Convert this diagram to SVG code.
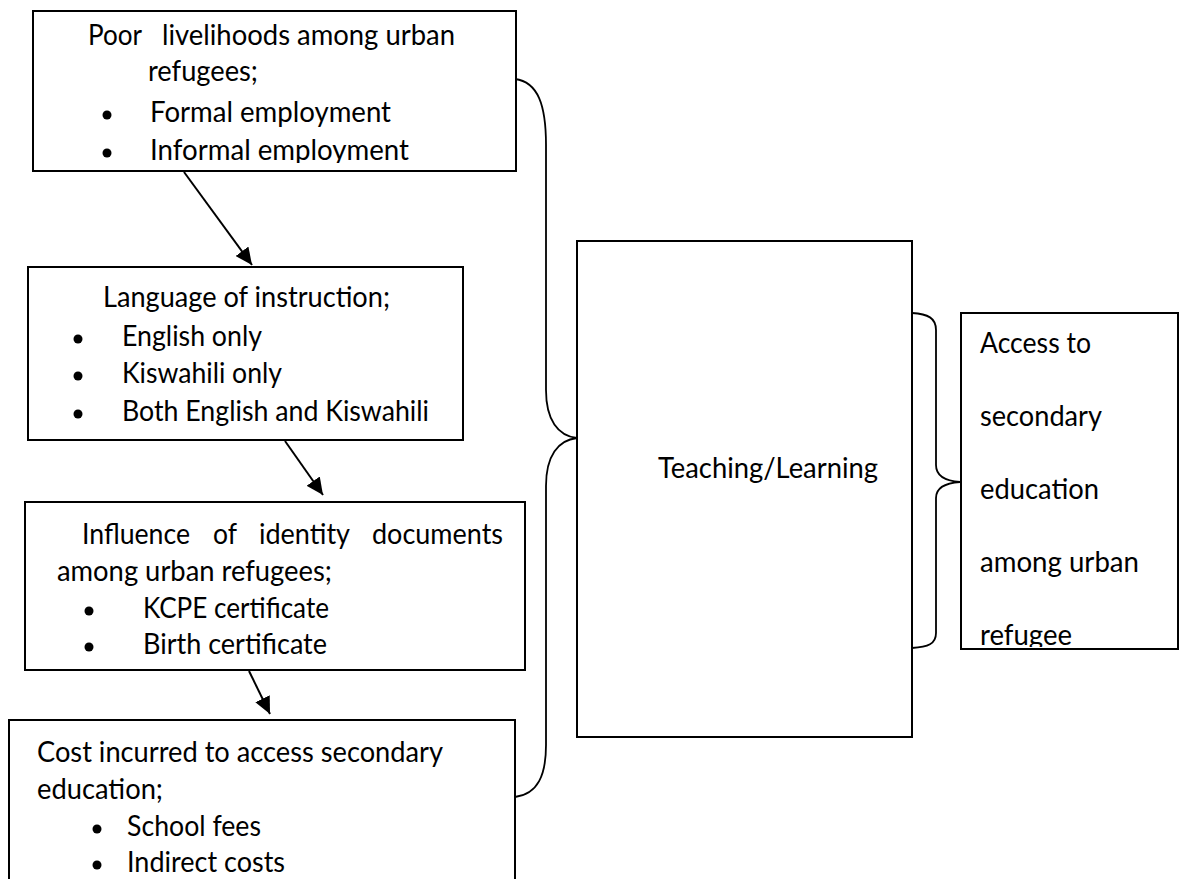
<svg xmlns="http://www.w3.org/2000/svg" width="1187" height="879" viewBox="0 0 1187 879">
<style>
.box{fill:#fff;stroke:#000;stroke-width:2}
.t{font-family:Lato,"Open Sans","Liberation Sans",sans-serif;font-size:28px;fill:#000}
.con{fill:none;stroke:#000;stroke-width:2}
.brace{fill:none;stroke:#000;stroke-width:1.8}
.b{fill:#000}
</style>
<defs>
<marker id="ah" markerUnits="userSpaceOnUse" markerWidth="20" markerHeight="16" refX="17" refY="8" orient="auto">
<path d="M0,0 L17,8 L0,16 z" fill="#000"/>
</marker>
<clipPath id="c1"><rect x="33" y="11" width="483" height="152"/></clipPath>
<clipPath id="c5"><rect x="961" y="313" width="217" height="334"/></clipPath>
</defs>
<rect width="1187" height="879" fill="#fff"/>

<g id="connectors">
<path class="con" d="M184,172 L252,265" marker-end="url(#ah)"/>
<path class="con" d="M285,441 L323,495" marker-end="url(#ah)"/>
<path class="con" d="M249,671 L270,714" marker-end="url(#ah)"/>
<path class="brace" d="M515,79 C538,82 546,105 546,145 L546,390 C546,420 558,436 577,438 C558,440 546,456 546,486 L546,745 C546,775 538,794 515,797"/>
<path class="brace" d="M912,313 C928,314 936,318 936,330 L936,465 C936,476 946,481 960,482 C946,483 936,488 936,498 L936,633 C936,644 928,647 912,648"/>
</g>

<g id="node-livelihoods">
<rect class="box" x="33" y="11" width="483" height="160"/>
<g clip-path="url(#c1)">
<text class="t" x="88" y="45" textLength="54" lengthAdjust="spacingAndGlyphs">Poor</text>
<text class="t" x="162" y="45" textLength="293" lengthAdjust="spacingAndGlyphs">livelihoods among urban</text>
<text class="t" x="148" y="81" textLength="110" lengthAdjust="spacingAndGlyphs">refugees;</text>
<circle class="b" cx="107" cy="115" r="4.5"/>
<text class="t" x="150" y="122" textLength="241" lengthAdjust="spacingAndGlyphs">Formal employment</text>
<circle class="b" cx="107" cy="153" r="4.5"/>
<text class="t" x="150" y="160" textLength="259" lengthAdjust="spacingAndGlyphs">Informal employment</text>
</g>
</g>

<g id="node-language">
<rect class="box" x="28" y="267" width="435" height="173"/>
<text class="t" x="103" y="307" textLength="287" lengthAdjust="spacingAndGlyphs">Language of instruction;</text>
<circle class="b" cx="78" cy="339" r="4.5"/>
<text class="t" x="122" y="346" textLength="140" lengthAdjust="spacingAndGlyphs">English only</text>
<circle class="b" cx="78" cy="376" r="4.5"/>
<text class="t" x="122" y="383" textLength="160" lengthAdjust="spacingAndGlyphs">Kiswahili only</text>
<circle class="b" cx="78" cy="414" r="4.5"/>
<text class="t" x="122" y="421" textLength="307" lengthAdjust="spacingAndGlyphs">Both English and Kiswahili</text>
</g>

<g id="node-identity">
<rect class="box" x="25" y="502" width="500" height="168"/>
<text class="t" x="82" y="544" textLength="108" lengthAdjust="spacingAndGlyphs">Influence</text>
<text class="t" x="213" y="544" textLength="24" lengthAdjust="spacingAndGlyphs">of</text>
<text class="t" x="259" y="544" textLength="91" lengthAdjust="spacingAndGlyphs">identity</text>
<text class="t" x="372" y="544" textLength="131" lengthAdjust="spacingAndGlyphs">documents</text>
<text class="t" x="57" y="581" textLength="275" lengthAdjust="spacingAndGlyphs">among urban refugees;</text>
<circle class="b" cx="89" cy="611" r="4.5"/>
<text class="t" x="143" y="618" textLength="186" lengthAdjust="spacingAndGlyphs">KCPE certificate</text>
<circle class="b" cx="89" cy="647" r="4.5"/>
<text class="t" x="143" y="654" textLength="184" lengthAdjust="spacingAndGlyphs">Birth certificate</text>
</g>

<g id="node-cost">
<rect class="box" x="9" y="720" width="506" height="175"/>
<text class="t" x="37" y="762" textLength="406" lengthAdjust="spacingAndGlyphs">Cost incurred to access secondary</text>
<text class="t" x="37" y="799" textLength="126" lengthAdjust="spacingAndGlyphs">education;</text>
<circle class="b" cx="97" cy="829" r="4.5"/>
<text class="t" x="127" y="836" textLength="134" lengthAdjust="spacingAndGlyphs">School fees</text>
<circle class="b" cx="97" cy="865" r="4.5"/>
<text class="t" x="127" y="872" textLength="158" lengthAdjust="spacingAndGlyphs">Indirect costs</text>
</g>

<g id="node-teaching">
<rect class="box" x="577" y="241" width="335" height="496"/>
<text class="t" x="658" y="478" textLength="220" lengthAdjust="spacingAndGlyphs">Teaching/Learning</text>
</g>

<g id="node-access">
<rect class="box" x="961" y="313" width="217" height="336"/>
<g clip-path="url(#c5)">
<text class="t" x="980" y="353" textLength="111" lengthAdjust="spacingAndGlyphs">Access to</text>
<text class="t" x="980" y="426" textLength="122" lengthAdjust="spacingAndGlyphs">secondary</text>
<text class="t" x="980" y="499" textLength="119" lengthAdjust="spacingAndGlyphs">education</text>
<text class="t" x="980" y="572" textLength="159" lengthAdjust="spacingAndGlyphs">among urban</text>
<text class="t" x="980" y="645" textLength="92" lengthAdjust="spacingAndGlyphs">refugee</text>
</g>
</g>
</svg>
